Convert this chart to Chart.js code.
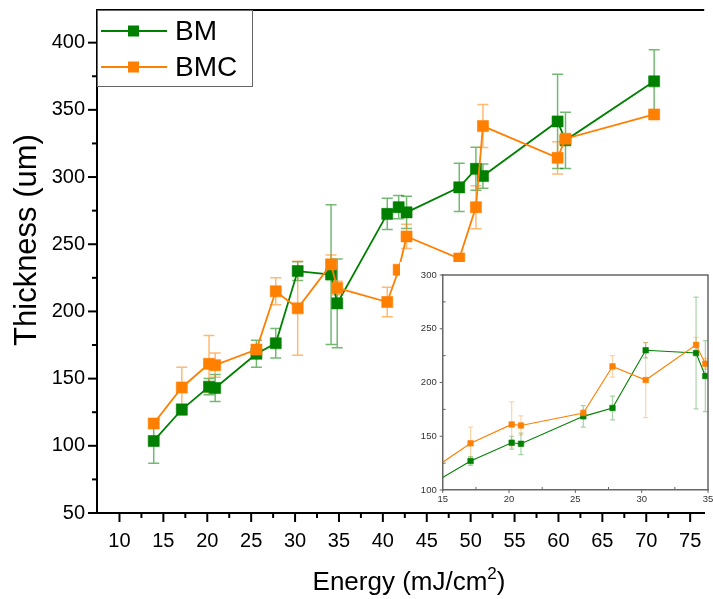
<!DOCTYPE html>
<html lang="en">
<head>
    <meta charset="UTF-8">
    <title>Thickness vs Energy</title>
    <script src="https://cdn.jsdelivr.net/npm/chart.js"></script>
    <style>
        body { margin: 0; background: #fff; }
        #wrap { position: relative; width: 713px; height: 599px; overflow: hidden; }
        #main { position: absolute; left: 0; top: 0; }
        #inset { position: absolute; left: 400px; top: 262px; background: #fff; }
    </style>
</head>
<body>
<div id="wrap">
    <canvas id="main" width="713" height="599"></canvas>
    <canvas id="inset" width="313" height="248"></canvas>
</div>
<script>
// data
const energy = [13.9, 17.1, 20.2, 20.9, 25.6, 27.8, 30.3, 34.1, 34.8, 40.5, 41.8, 42.7, 48.7, 50.6, 51.4, 59.9, 60.8, 70.9];
const bm     = [103.6, 127, 144, 143, 168.5, 176.3, 230, 227.4, 206, 272.6, 277.6, 273.7, 292.3, 306.1, 300.7, 341.4, 327.3, 371.2];
const bmErr  = [16.5, 4, 6, 10, 10, 11, 7, 52, 33, 11.6, 8.6, 12, 18, 16, 9, 35, 21, 23.5];
const bmc    = [116.6, 143.4, 161, 160, 171.6, 215, 202.3, 235, 217.5, 207, 231, 255.8, 239.4, 277.6, 337.9, 314.3, 328.5, 346.6];
const bmcErr = [3, 15, 21, 9, 3, 10, 35, 7, 5, 11, 3, 9, 3, 16, 16, 12, 3, 2];

const xTicks = [10, 15, 20, 25, 30, 35, 40, 45, 50, 55, 60, 65, 70, 75];
const xMinor = [12.5, 17.5, 22.5, 27.5, 32.5, 37.5, 42.5, 47.5, 52.5, 57.5, 62.5, 67.5, 72.5];
const yTicks = [50, 100, 150, 200, 250, 300, 350, 400];
const yMinor = [75, 125, 175, 225, 275, 325, 375];
const insetXTicks = [15, 20, 25, 30, 35];
const insetXMinor = [17.5, 22.5, 27.5, 32.5];
const insetYTicks = [100, 150, 200, 250, 300];
const insetYMinor = [125, 175, 225, 275];

const GREEN = '#008000', ORANGE = '#ff8000';
const FONT = '"Liberation Sans", Arial, sans-serif';

const pts = (ys) => energy.map((e, i) => ({ x: e, y: ys[i] }));

// error bars, drawn under the lines through the chart scales
const errorBars = {
    id: 'errorBars',
    beforeDatasetsDraw(chart, args, o) {
        const { ctx, chartArea: a, scales: { x, y } } = chart;
        ctx.save();
        ctx.beginPath();
        ctx.rect(a.left, a.top, a.right - a.left, a.bottom - a.top);
        ctx.clip();
        ctx.lineWidth = o.width;
        chart.data.datasets.forEach(ds => {
            ctx.strokeStyle = ds.errColor;
            ds.data.forEach((p, i) => {
                const px = x.getPixelForValue(p.x);
                const t = y.getPixelForValue(p.y + ds.err[i]);
                const b = y.getPixelForValue(p.y - ds.err[i]);
                ctx.beginPath();
                ctx.moveTo(px, t); ctx.lineTo(px, b);
                ctx.moveTo(px - o.cap, t); ctx.lineTo(px + o.cap, t);
                ctx.moveTo(px - o.cap, b); ctx.lineTo(px + o.cap, b);
                ctx.stroke();
            });
        });
        ctx.restore();
    }
};

// major / minor tick marks and the extra frame lines
const tickMarks = {
    id: 'tickMarks',
    afterDraw(chart, args, o) {
        const { ctx, chartArea: a, scales: { x, y } } = chart;
        ctx.save();
        ctx.strokeStyle = o.color;
        ctx.lineWidth = o.width;
        const markX = (list, len) => list.forEach(v => {
            const p = x.getPixelForValue(v);
            ctx.beginPath(); ctx.moveTo(p, a.bottom); ctx.lineTo(p, a.bottom + len); ctx.stroke();
        });
        const markY = (list, len) => list.forEach(v => {
            const p = y.getPixelForValue(v);
            ctx.beginPath(); ctx.moveTo(a.left, p); ctx.lineTo(a.left - len, p); ctx.stroke();
        });
        markX(o.xMajor, o.majorLen); markX(o.xMinor, o.minorLen);
        markY(o.yMajor, o.majorLen); markY(o.yMinor, o.minorLen);
        ctx.lineWidth = o.frameWidth;
        ctx.beginPath();
        ctx.moveTo(a.left - 1, a.top); ctx.lineTo(a.right, a.top);
        if (o.right) { ctx.lineTo(a.right, a.bottom); }
        ctx.stroke();
        ctx.restore();
    }
};

// legend with line + marker sample, and the axis titles
const decor = {
    id: 'decor',
    afterDraw(chart, args, o) {
        const ctx = chart.ctx;
        ctx.save();
        ctx.fillStyle = '#fff';
        ctx.fillRect(97.5, 10.5, 155, 76);
        ctx.strokeStyle = '#666';
        ctx.lineWidth = 1;
        ctx.strokeRect(97.5, 10.5, 155, 76);
        chart.data.datasets.forEach((ds, i) => {
            const yy = 31 + i * 36;
            ctx.strokeStyle = ds.borderColor;
            ctx.lineWidth = 1.8;
            ctx.beginPath(); ctx.moveTo(101, yy); ctx.lineTo(167, yy); ctx.stroke();
            ctx.fillStyle = ds.borderColor;
            ctx.fillRect(128, yy - 5.5, 11, 11);
            ctx.fillStyle = '#000';
            ctx.font = '28px ' + FONT;
            ctx.textBaseline = 'middle';
            ctx.fillText(ds.label, 175, yy + 1);
        });

        // x title with a real superscript
        ctx.fillStyle = '#000';
        ctx.textBaseline = 'alphabetic';
        const f1 = '26px ' + FONT, f2 = '17px ' + FONT;
        ctx.font = f1;
        const wa = ctx.measureText('Energy (mJ/cm').width;
        const wc = ctx.measureText(')').width;
        ctx.font = f2;
        const wb = ctx.measureText('2').width;
        let sx = 409 - (wa + wb + wc) / 2;
        ctx.font = f1; ctx.fillText('Energy (mJ/cm', sx, 590);
        ctx.font = f2; ctx.fillText('2', sx + wa, 579);
        ctx.font = f1; ctx.fillText(')', sx + wa + wb, 590);

        ctx.textAlign = 'center';
        ctx.translate(27, 240);
        ctx.rotate(-Math.PI / 2);
        ctx.font = '31px ' + FONT;
        ctx.textBaseline = 'middle';
        ctx.fillText('Thickness (um)', 0, 0);
        ctx.restore();
    }
};

function fixScale(w, h) {
    return s => {
        if (w !== null) s.width = w;
        if (h !== null) s.height = h;
        s.paddingLeft = 0; s.paddingRight = 0; s.paddingTop = 0; s.paddingBottom = 0;
    };
}

function series(big) {
    return [
        {
            label: 'BM', data: pts(bm), err: bmErr,
            errColor: big ? 'rgba(0,128,0,0.55)' : 'rgba(0,128,0,0.35)',
            borderColor: GREEN, backgroundColor: GREEN,
            borderWidth: big ? 1.8 : 1.1, pointStyle: 'rect',
            pointRadius: big ? 7.8 : 3.9, pointBorderWidth: 1,
            pointBorderColor: 'rgba(0,128,0,0.6)', order: 1
        },
        {
            label: 'BMC', data: pts(bmc), err: bmcErr,
            errColor: big ? 'rgba(255,128,0,0.55)' : 'rgba(255,128,0,0.35)',
            borderColor: ORANGE, backgroundColor: ORANGE,
            borderWidth: big ? 1.8 : 1.1, pointStyle: 'rect',
            pointRadius: big ? 7.8 : 3.9, pointBorderWidth: 1,
            pointBorderColor: 'rgba(255,128,0,0.6)', order: 0
        }
    ];
}

new Chart(document.getElementById('main'), {
    type: 'line',
    data: { datasets: series(true) },
    options: {
        responsive: false, animation: false, devicePixelRatio: 1,
        layout: { padding: { top: 10, right: 0, left: 0, bottom: 0 } },
        plugins: {
            legend: { display: false }, tooltip: { enabled: false },
            errorBars: { width: 1.5, cap: 5.5 },
            tickMarks: { color: '#000', width: 2, majorLen: 9, minorLen: 5, frameWidth: 2,
                xMajor: xTicks, xMinor: xMinor, yMajor: yTicks, yMinor: yMinor, right: false }
        },
        scales: {
            x: {
                type: 'linear', min: 7.44, max: 76.6,
                afterBuildTicks: s => { s.ticks = xTicks.map(v => ({ value: v })); },
                afterFit: fixScale(null, 86),
                grid: { display: true, drawOnChartArea: false, drawTicks: false },
                border: { display: true, color: '#000', width: 2 },
                ticks: { color: '#000', font: { family: FONT, size: 20 }, padding: 16, maxRotation: 0, autoSkip: false }
            },
            y: {
                type: 'linear', min: 50, max: 424.3,
                afterBuildTicks: s => { s.ticks = yTicks.map(v => ({ value: v })); },
                afterFit: fixScale(97, null),
                grid: { display: true, drawOnChartArea: false, drawTicks: false },
                border: { display: true, color: '#000', width: 2 },
                ticks: { color: '#000', font: { family: FONT, size: 20 }, padding: 12 }
            }
        }
    },
    plugins: [errorBars, tickMarks, decor]
});

new Chart(document.getElementById('inset'), {
    type: 'line',
    data: { datasets: series(false) },
    options: {
        responsive: false, animation: false, devicePixelRatio: 1,
        layout: { padding: { top: 13, right: 1.3, left: 0, bottom: 0 } },
        plugins: {
            legend: { display: false }, tooltip: { enabled: false },
            errorBars: { width: 1.2, cap: 2.5 },
            tickMarks: { color: '#666', width: 1, majorLen: 3, minorLen: -3, frameWidth: 1.5,
                xMajor: insetXTicks, xMinor: insetXMinor, yMajor: insetYTicks, yMinor: insetYMinor, right: true }
        },
        scales: {
            x: {
                type: 'linear', min: 15, max: 35,
                afterBuildTicks: s => { s.ticks = insetXTicks.map(v => ({ value: v })); },
                afterFit: fixScale(null, 20),
                grid: { display: true, drawOnChartArea: false, drawTicks: false },
                border: { display: true, color: '#666', width: 1.5 },
                ticks: { color: '#333', font: { family: FONT, size: 9.5 }, padding: 4, maxRotation: 0, autoSkip: false }
            },
            y: {
                type: 'linear', min: 100, max: 300,
                afterBuildTicks: s => { s.ticks = insetYTicks.map(v => ({ value: v })); },
                afterFit: fixScale(42.7, null),
                grid: { display: true, drawOnChartArea: false, drawTicks: false },
                border: { display: true, color: '#666', width: 1.5 },
                ticks: { color: '#333', font: { family: FONT, size: 9.5 }, padding: 6 }
            }
        }
    },
    plugins: [errorBars, tickMarks]
});
</script>
</body>
</html>
